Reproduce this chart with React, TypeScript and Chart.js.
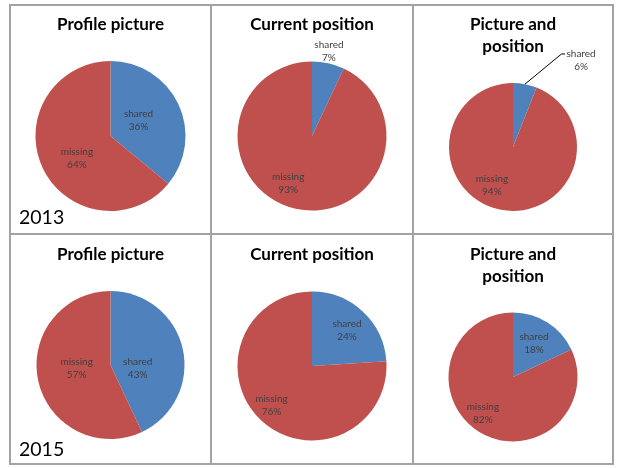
import React, { useEffect, useRef } from "react";
import { Chart, registerables } from "chart.js";

Chart.register(...registerables);

// ---------- data ----------
const categories = ["shared", "missing"];
const years = ["2013", "2015"];
const panelTitles = [["Profile picture"], ["Current position"], ["Picture and", "position"]];
const shared2013 = [36, 7, 6];
const missing2013 = [64, 93, 94];
const shared2015 = [43, 24, 18];
const missing2015 = [57, 76, 82];

// ---------- styles / layout ----------
const BLUE = "#4F81BD";
const RED = "#C0504D";
const LINE = "#A3A3A3";
const TEXT = "#404040";
const FONT = "Lato, Carlito, 'Open Sans', sans-serif";
const TITLE_SIZE = 17;
const TITLE_LH = 22;
const LABEL_SIZE = 10;
const LABEL_LH = 13;

const colX = [11, 212, 414];
const colW = [199, 200, 198];
const rowY = [6, 235];
const rowH = [227, 228];

// pie square inside each cell: left, top, size; ty = first title line centre
const pieBoxes = [
  [
    { l: 24.5, t: 55, s: 150, ty: 19 },
    { l: 25.5, t: 55.5, s: 149, ty: 19 },
    { l: 35, t: 77, s: 128, ty: 19 },
  ],
  [
    { l: 25.5, t: 56, s: 148, ty: 20 },
    { l: 25.5, t: 56.5, s: 149, ty: 20 },
    { l: 34.5, t: 77.5, s: 129, ty: 20 },
  ],
];

// label placement per slice: [fraction of radius, angle shift in degrees from slice middle]
const labelPlacement = [
  [
    [[0.43, -4.5], [0.54, -8.7]],
    [[1.16, -1.3], [0.71, 14.2]],
    [[1.72, 27.4], [0.69, 17.8]],
  ],
  [
    [[0.37, 19.9], [0.46, 6.6]],
    [[0.67, 1.4], [0.76, 2.5]],
    [[0.62, -0.7], [0.73, 7.4]],
  ],
];
const leaderLines = [
  [[false, false], [false, false], [true, false]],
  [[false, false], [false, false], [false, false]],
];
const yearBottom = [9, 7.5];

const pieLabels = {
  id: "pieLabels",
  afterDatasetsDraw(chart: any, _args: any, opts: any) {
    const ctx = chart.ctx as CanvasRenderingContext2D;
    const meta = chart.getDatasetMeta(0);
    const data = chart.data.datasets[0].data as number[];
    const total = data.reduce((a, b) => a + b, 0);
    ctx.save();
    ctx.font = `${LABEL_SIZE}px ${FONT}`;
    ctx.fillStyle = TEXT;
    ctx.textAlign = "center";
    ctx.textBaseline = "middle";
    meta.data.forEach((arc: any, i: number) => {
      const p = arc.getProps(["x", "y", "startAngle", "endAngle", "outerRadius"], true);
      const mid = (p.startAngle + p.endAngle) / 2;
      const [frac, delta] = opts.placement[i];
      const a = mid + (delta * Math.PI) / 180;
      const cx = p.x + Math.cos(a) * p.outerRadius * frac;
      const cy = p.y + Math.sin(a) * p.outerRadius * frac;
      const lines = [String(chart.data.labels[i]), Math.round((data[i] / total) * 100) + "%"];
      lines.forEach((t, k) => ctx.fillText(t, cx, cy + (k - 0.5) * LABEL_LH));
      if (opts.leaders[i]) {
        const w = ctx.measureText(lines[0]).width;
        const left = cx - w / 2;
        const ly = cy - 0.5 * LABEL_LH;
        ctx.save();
        ctx.strokeStyle = "#000";
        ctx.lineWidth = 1;
        ctx.beginPath();
        ctx.moveTo(p.x + Math.cos(mid) * p.outerRadius, p.y + Math.sin(mid) * p.outerRadius);
        ctx.lineTo(left - 5, ly);
        ctx.lineTo(left - 1.5, ly);
        ctx.stroke();
        ctx.restore();
      }
    });
    ctx.restore();
  },
};

const yearLabel = {
  id: "yearLabel",
  afterDraw(chart: any, _args: any, opts: any) {
    if (!opts.text) return;
    const ctx = chart.ctx as CanvasRenderingContext2D;
    ctx.save();
    ctx.font = `19.5px ${FONT}`;
    ctx.fillStyle = "#000";
    ctx.textAlign = "left";
    ctx.textBaseline = "alphabetic";
    ctx.fillText(opts.text, 8, chart.height - opts.bottom);
    ctx.restore();
  },
};

function PieCell({ row, col }: { row: number; col: number }) {
  const ref = useRef<HTMLCanvasElement>(null);
  useEffect(() => {
    const shared = row === 0 ? shared2013 : shared2015;
    const missing = row === 0 ? missing2013 : missing2015;
    const box = pieBoxes[row][col];
    const w = colW[col];
    const h = rowH[row];
    const title = panelTitles[col];
    const padTop = box.ty - TITLE_LH / 2;
    const chart = new Chart(ref.current as HTMLCanvasElement, {
      type: "pie",
      data: {
        labels: categories,
        datasets: [
          {
            data: [shared[col], missing[col]],
            backgroundColor: [BLUE, RED],
            borderWidth: 0,
          },
        ],
      },
      options: {
        animation: false,
        responsive: false,
        maintainAspectRatio: false,
        events: [],
        layout: {
          padding: { left: box.l, right: w - box.l - box.s, top: 0, bottom: h - box.t - box.s },
        },
        plugins: {
          legend: { display: false },
          tooltip: { enabled: false },
          title: {
            display: true,
            text: title,
            color: "#000",
            font: { family: FONT, size: TITLE_SIZE, weight: "bold", lineHeight: TITLE_LH / TITLE_SIZE },
            padding: { top: padTop, bottom: box.t - padTop - title.length * TITLE_LH },
          },
          pieLabels: { placement: labelPlacement[row][col], leaders: leaderLines[row][col] },
          yearLabel: { text: col === 0 ? years[row] : "", bottom: yearBottom[row] },
        } as any,
      },
      plugins: [pieLabels, yearLabel],
    });
    return () => chart.destroy();
  }, [row, col]);
  return (
    <canvas
      ref={ref}
      width={colW[col]}
      height={rowH[row]}
      style={{ position: "absolute", left: colX[col], top: rowY[row], width: colW[col], height: rowH[row] }}
    />
  );
}

export default function App() {
  const lines = [
    { left: 9, top: 4, width: 605, height: 2 },
    { left: 9, top: 463, width: 605, height: 2 },
    { left: 9, top: 233, width: 605, height: 2 },
    { left: 9, top: 4, width: 2, height: 461 },
    { left: 210, top: 4, width: 2, height: 461 },
    { left: 412, top: 4, width: 2, height: 461 },
    { left: 612, top: 4, width: 2, height: 461 },
  ];
  return (
    <div style={{ position: "absolute", left: 0, top: 0, width: 617, height: 468, background: "#fff" }}>
      {[0, 1].map((r) => [0, 1, 2].map((c) => <PieCell key={`${r}-${c}`} row={r} col={c} />))}
      {lines.map((l, i) => (
        <div key={i} style={{ position: "absolute", background: LINE, ...l }} />
      ))}
    </div>
  );
}
